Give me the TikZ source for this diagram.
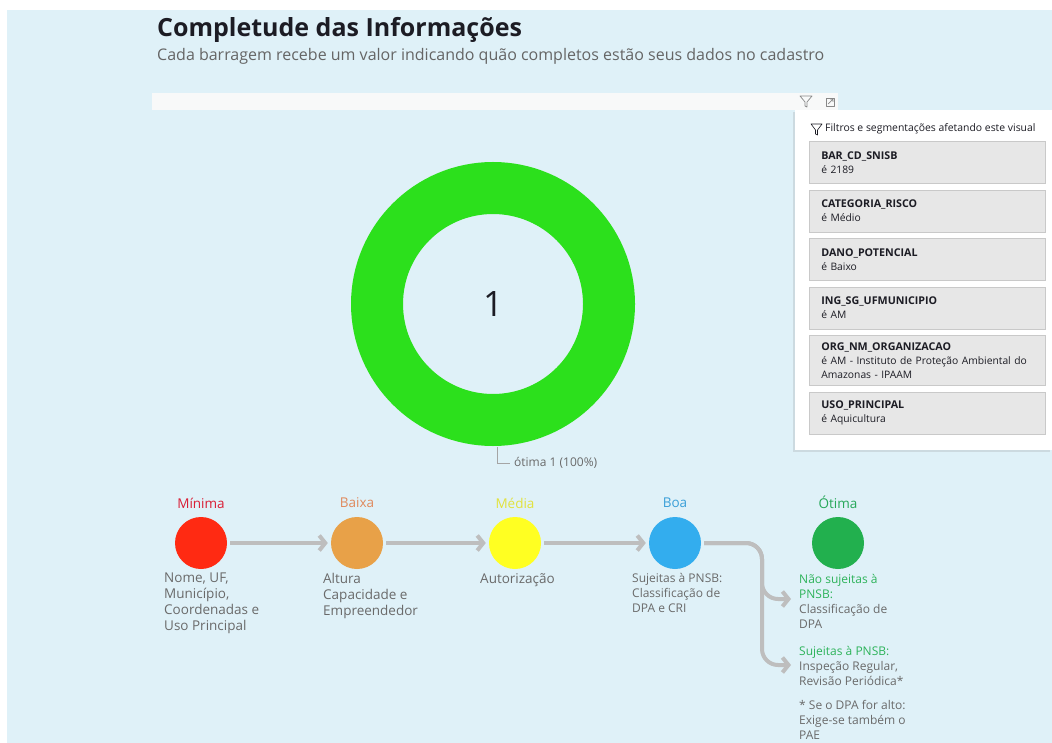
\documentclass[tikz,border=0pt]{standalone}
\usepackage{fontspec}
\setmainfont{Open Sans}
\usepackage{tikz}
\usetikzlibrary{shapes,arrows.meta,positioning,calc,shadows}

\definecolor{fundo}{HTML}{DFF1F8}
\definecolor{barra}{HTML}{F8F9F9}
\definecolor{rosca}{HTML}{2CE01C}
\definecolor{cartao}{HTML}{E7E7E7}
\definecolor{borda}{HTML}{C9C9C9}
\definecolor{cinza}{HTML}{6A6A6A}
\definecolor{seta}{HTML}{BEBEBE}
\definecolor{escuro}{HTML}{1C1C24}
\definecolor{verde}{HTML}{2DB35A}
\definecolor{corMin}{HTML}{FF2A12}
\definecolor{corBai}{HTML}{E8A148}
\definecolor{corMed}{HTML}{FFFF22}
\definecolor{corBoa}{HTML}{33ADEE}
\definecolor{corOti}{HTML}{22B04E}
\definecolor{txMin}{HTML}{D91E35}
\definecolor{txBai}{HTML}{E0895C}
\definecolor{txMed}{HTML}{E2E23C}
\definecolor{txBoa}{HTML}{3A9FD8}
\definecolor{txOti}{HTML}{27A85A}
\newcommand{\nomef}{\fontsize{10.7}{14}\selectfont\bfseries}

\begin{document}
\begin{tikzpicture}[x=1pt, y=-1pt, font=\fontsize{13.5}{16}\selectfont,
    flow/.style={draw=seta, line width=4pt, -{Straight Barb[length=6pt,width=15pt]}, shorten <=3pt, shorten >=3pt},
    level/.style={circle, minimum size=52pt, inner sep=0pt, on grid},
    leveltitle/.style={on grid, inner sep=0pt, font=\fontsize{13.5}{16}\selectfont},
    desc/.style={anchor=north west, align=left, inner sep=0pt, text=cinza},
    card/.style={rectangle, fill=cartao, draw=borda, line width=0.6pt, text width=212pt, minimum height=42pt, inner xsep=12pt, inner ysep=7pt, align=left, font=\fontsize{10.3}{14}\selectfont, text=escuro},
    icon/.style={draw=cinza!80, line width=0.7pt, line join=round}]
      \useasboundingbox (0,0) rectangle (1052,743);
      \fill[fundo] (7,10) rectangle (1052,743);
      \node[anchor=base west, inner sep=0pt, font=\fontsize{25}{30}\selectfont\bfseries, text=escuro] (titulo) at (157,37) {Completude das Informações};
      \node[anchor=base west, inner sep=0pt, font=\fontsize{16}{20}\selectfont, text=cinza!95!black] (subtitulo) at (157,61) {Cada barragem recebe um valor indicando quão completos estão seus dados no cadastro};
      \fill[barra] (152,93) rectangle (838,110);
      \draw[icon] (800,96) -- (812,96) -- (807,102) -- (807,107) -- (805,106) -- (805,102) -- cycle;
      \draw[icon] (826,98) -- (826,106) -- (834,106) -- (834,98) -- cycle;
      \draw[icon] (828,104) -- (833,99) (830,99) -- (833,99) -- (833,102);
      \node[circle, draw=rosca, line width=52pt, minimum size=232pt, inner sep=0pt, font=\fontsize{35}{35}\selectfont, text=escuro] (donut) at (493,304) {1};
      \coordinate (lider) at (497,447);
      \node[anchor=west, inner sep=0pt, font=\fontsize{12}{14}\selectfont, text=cinza] (rotulo) at (514,463) {ótima 1 (100\%)};
      \draw[cinza!60, line width=0.8pt, shorten >=4pt] (lider) |- (rotulo.west);
      \node[rectangle, fill=white, anchor=north west, minimum width=257pt, minimum height=340pt, inner sep=0pt, drop shadow={shadow xshift=-2pt, shadow yshift=-2pt, opacity=0.2}] (painel) at (795,110) {};
      \draw[icon, draw=escuro, line width=0.6pt] (811,124) -- (822,124) -- (817.5,130) -- (817.5,135) -- (815.5,134) -- (815.5,130) -- cycle;
      \node[anchor=west, inner sep=0pt, font=\fontsize{10.4}{12}\selectfont, text=escuro] (ptitulo) at (825,129) {Filtros e segmentações afetando este visual};
      \node[card, anchor=north west] (c1) at (809,141) {{\nomef BAR\_CD\_SNISB}\\é 2189};
      \node[card, below=6pt of c1] (c2) {{\nomef CATEGORIA\_RISCO}\\é Médio};
      \node[card, below=6pt of c2] (c3) {{\nomef DANO\_POTENCIAL}\\é Baixo};
      \node[card, below=6pt of c3] (c4) {{\nomef ING\_SG\_UFMUNICIPIO}\\é AM};
      \node[card, below=6pt of c4] (c5) {{\nomef ORG\_NM\_ORGANIZACAO}\\é AM - Instituto de Proteção Ambiental do\\Amazonas - IPAAM};
      \node[card, below=6pt of c5] (c6) {{\nomef USO\_PRINCIPAL}\\é Aquicultura};
      \node[level, fill=corMin] (minima) at (201,543) {};
      \node[level, fill=corBai, right=156pt of minima] (baixa) {};
      \node[level, fill=corMed, right=158pt of baixa] (media) {};
      \node[level, fill=corBoa, right=160pt of media] (boa) {};
      \node[level, fill=corOti, right=163pt of boa] (otima) {};
      \node[leveltitle, text=txMin, above=40pt of minima] (tmin) {Mínima};
      \node[leveltitle, text=txBai, above=40pt of baixa] (tbai) {Baixa};
      \node[leveltitle, text=txMed, above=40pt of media] (tmed) {Média};
      \node[leveltitle, text=txBoa, above=40pt of boa] (tboa) {Boa};
      \node[leveltitle, text=txOti, above=41pt of otima] (toti) {Ótima};
      \node[desc] (dmin) at (164,573) {Nome, UF,\\Município,\\Coordenadas e\\Uso Principal};
      \node[desc] (dbai) at (323,573) {Altura\\Capacidade e\\Empreendedor};
      \node[desc] (dmed) at (480,573) {Autorização};
      \node[desc, font=\fontsize{12}{15}\selectfont] (dboa) at (632,573) {Sujeitas à PNSB:\\Classificação de\\DPA e CRI};
      \node[desc, font=\fontsize{12}{15}\selectfont] (doti1) at (799,574) {{\color{verde}Não sujeitas à}\\{\color{verde}PNSB:}\\Classificação de\\DPA};
      \node[desc, font=\fontsize{12}{15}\selectfont] (doti2) at (799,646) {{\color{verde}Sujeitas à PNSB:}\\Inspeção Regular,\\Revisão Periódica*};
      \node[desc, font=\fontsize{12}{15}\selectfont] (doti3) at (799,700) {* Se o DPA for alto:\\Exige-se também o\\PAE};
      \draw[flow] (minima) -- (baixa);
      \draw[flow] (baixa) -- (media);
      \draw[flow] (media) -- (boa);
      \coordinate (curva) at (762,543);
      \coordinate (seta1) at (791,599);
      \coordinate (seta2) at (791,665);
      \draw[flow, rounded corners=16pt, shorten >=0pt] (boa) -- (curva) |- (seta1);
      \draw[flow, rounded corners=16pt, shorten >=0pt] (boa) -- (curva) |- (seta2);
\end{tikzpicture}
\end{document}
